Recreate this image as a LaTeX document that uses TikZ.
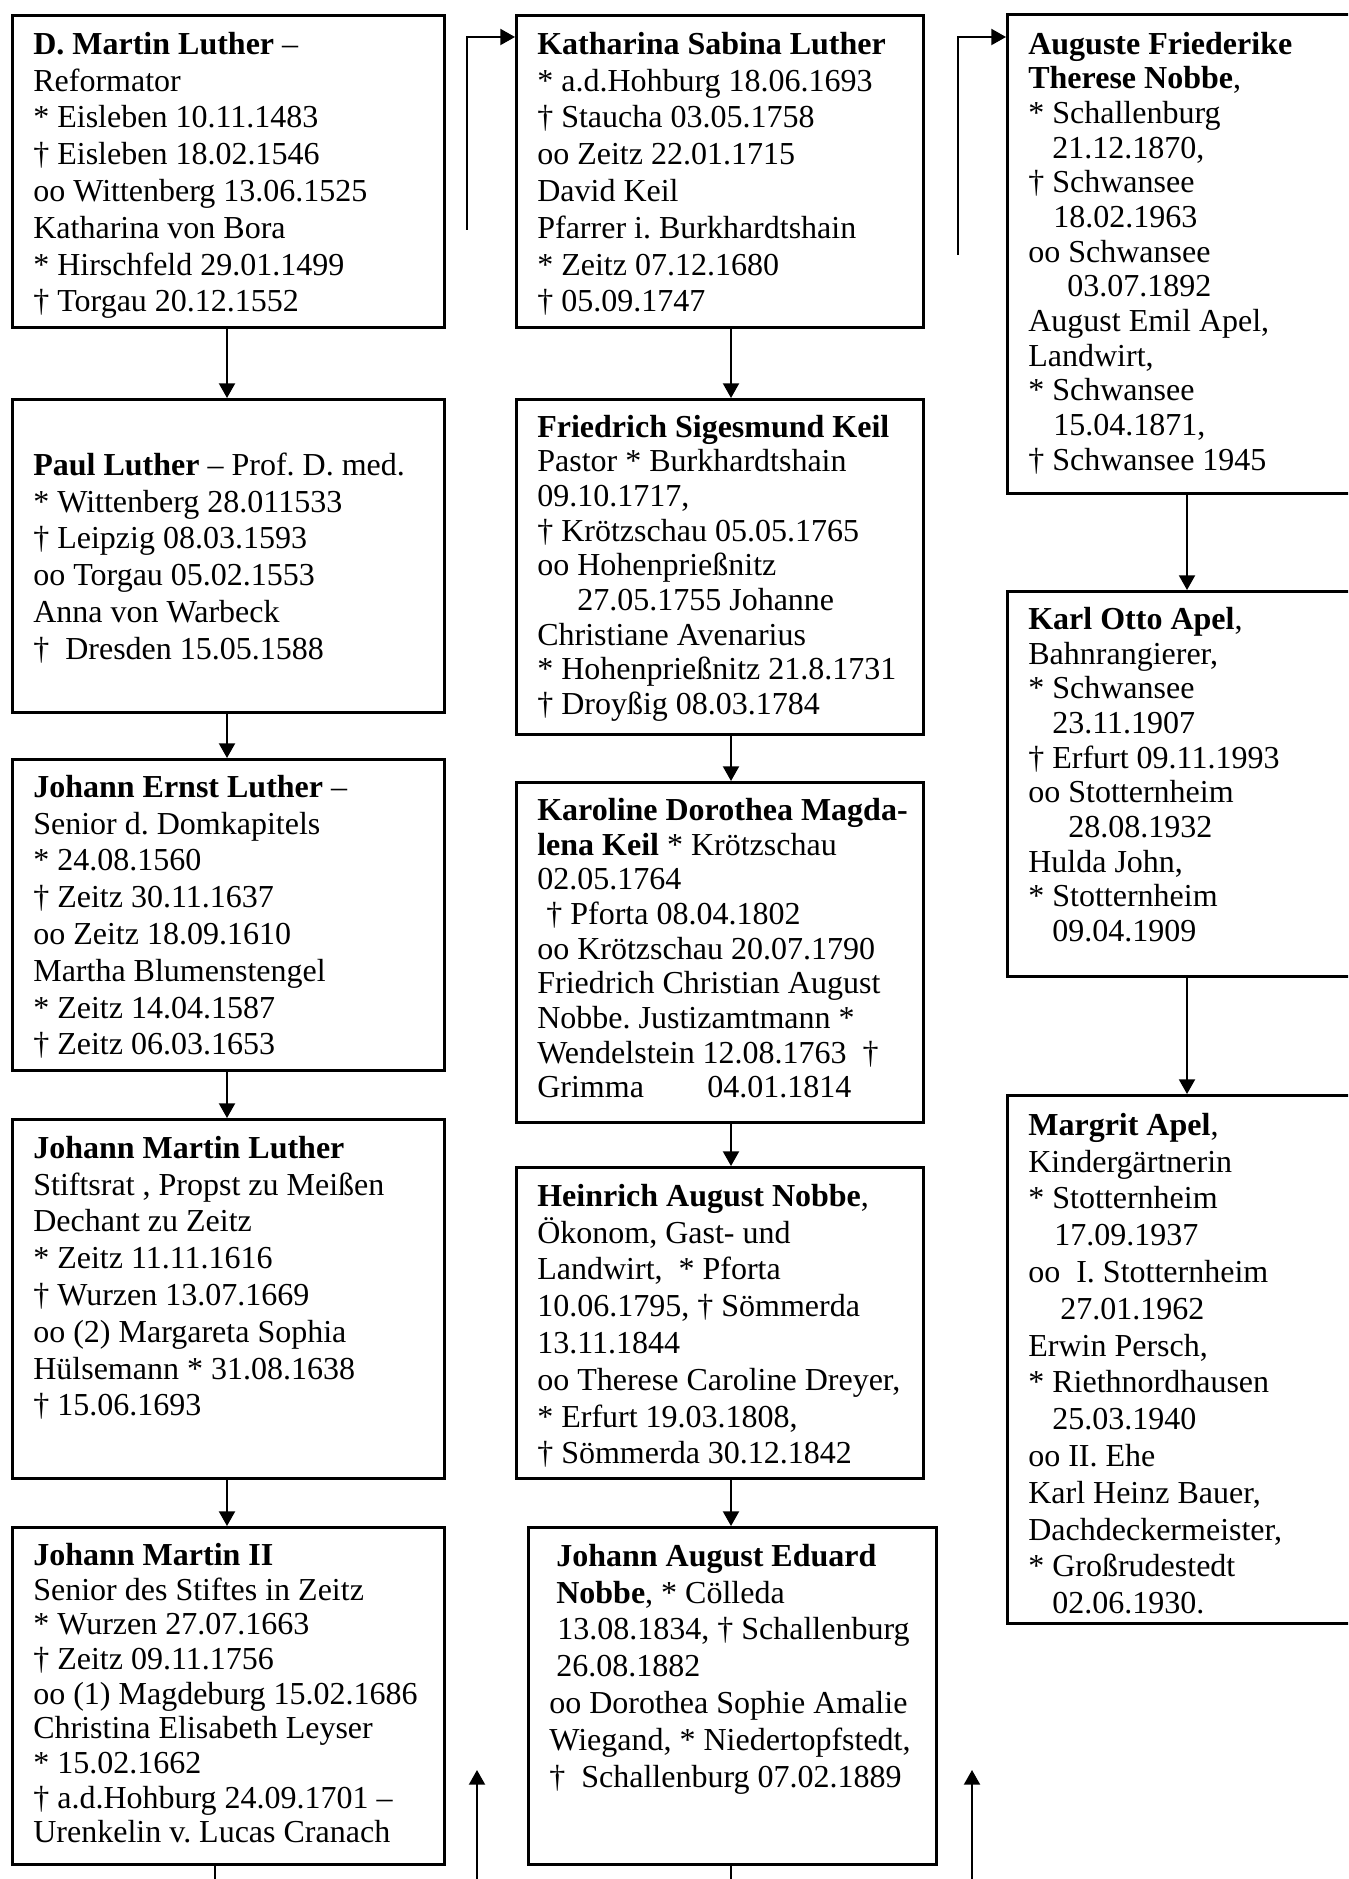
\documentclass[tikz,border=0pt]{standalone}
\usepackage{fontspec}
\setmainfont{Liberation Serif}
\usetikzlibrary{arrows.meta}
\newdimen\pxu \pxu=0.375pt
% #1 width, #2 height, #3 first baseline offset, #4 baselineskip, #5 text (all in px except #4)
\newcommand\famtext[5]{%
\begin{minipage}[t][#2\pxu][t]{#1\pxu}\fontsize{12pt}{#4}\selectfont\frenchspacing\raggedright\leftskip=21\pxu\relax
\rule{0pt}{#3\pxu}#5\par\end{minipage}}
\newcommand\ind[1]{\hspace*{#1\pxu}}
\tikzset{
  famb/.style={draw, line width=1pt, inner sep=0pt, anchor=north west},
  conn/.style={line width=0.75pt, -{Triangle[length=5.5pt,width=6pt]}},
  plain/.style={line width=0.75pt}
}
\begin{document}
\begin{tikzpicture}[x=0.375pt,y=-0.375pt]
\useasboundingbox (0,0) rectangle (1348,1879);
\fill[white] (0,0) rectangle (1348,1879);
\clip (0,0) rectangle (1348,1879);
% column 1
\node[famb] (b1) at (11,14) {\famtext{432}{312}{39}{13.8pt}{%
\textbf{D. Martin Luther} –\par
Reformator\par
* Eisleben 10.11.1483\par
† Eisleben 18.02.1546\par
oo Wittenberg 13.06.1525\par
Katharina von Bora\par
* Hirschfeld 29.01.1499\par
† Torgau 20.12.1552}};
\node[famb] (b2) at (11,398) {\famtext{432}{313}{76}{13.8pt}{%
\textbf{Paul Luther} – Prof. D. med.\par
* Wittenberg 28.011533\par
† Leipzig 08.03.1593\par
oo Torgau 05.02.1553\par
Anna von Warbeck\par
†\ \ Dresden 15.05.1588}};
\node[famb] (b3) at (11,758) {\famtext{432}{311}{38}{13.8pt}{%
\textbf{Johann Ernst Luther} –\par
Senior d. Domkapitels\par
* 24.08.1560\par
† Zeitz 30.11.1637\par
oo Zeitz 18.09.1610\par
Martha Blumenstengel\par
* Zeitz 14.04.1587\par
† Zeitz 06.03.1653}};
\node[famb] (b4) at (11,1118) {\famtext{432}{359}{39}{13.8pt}{%
\textbf{Johann Martin Luther}\par
Stiftsrat , Propst zu Meißen\par
Dechant zu Zeitz\par
* Zeitz 11.11.1616\par
† Wurzen 13.07.1669\par
oo (2) Margareta Sophia\par
Hülsemann * 31.08.1638\par
† 15.06.1693}};
\node[famb] (b5) at (11,1526) {\famtext{432}{337}{38}{13pt}{%
\textbf{Johann Martin II}\par
Senior des Stiftes in Zeitz\par
* Wurzen 27.07.1663\par
† Zeitz 09.11.1756\par
oo (1) Magdeburg 15.02.1686\par
Christina Elisabeth Leyser\par
* 15.02.1662\par
† a.d.Hohburg 24.09.1701 –\par
Urenkelin v. Lucas Cranach}};
% column 2
\node[famb] (b6) at (515,14) {\famtext{407}{312}{39}{13.8pt}{%
\textbf{Katharina Sabina Luther}\par
* a.d.Hohburg 18.06.1693\par
† Staucha 03.05.1758\par
oo Zeitz 22.01.1715\par
David Keil\par
Pfarrer i. Burkhardtshain\par
* Zeitz 07.12.1680\par
† 05.09.1747}};
\node[famb] (b7) at (515,398) {\famtext{407}{335}{38}{13pt}{%
\textbf{Friedrich Sigesmund Keil}\par
Pastor * Burkhardtshain\par
09.10.1717,\par
† Krötzschau 05.05.1765\par
oo Hohenprießnitz\par
\ind{40}27.05.1755 Johanne\par
Christiane Avenarius\par
* Hohenprießnitz 21.8.1731\par
† Droyßig 08.03.1784}};
\node[famb] (b8) at (515,781) {\famtext{407}{340}{38}{13pt}{%
\textbf{Karoline Dorothea Magda-}\par
\textbf{lena Keil} * Krötzschau\par
02.05.1764\par
\ind{9}† Pforta 08.04.1802\par
oo Krötzschau 20.07.1790\par
Friedrich Christian August\par
Nobbe. Justizamtmann *\par
Wendelstein 12.08.1763\ \ †\par
\makebox[170\pxu][l]{Grimma}04.01.1814}};
\node[famb] (b9) at (515,1166) {\famtext{407}{311}{39}{13.8pt}{%
\textbf{Heinrich August Nobbe},\par
Ökonom, Gast- und\par
Landwirt,\ \ * Pforta\par
10.06.1795, † Sömmerda\par
13.11.1844\par
oo Therese Caroline Dreyer,\par
* Erfurt 19.03.1808,\par
† Sömmerda 30.12.1842}};
\node[famb] (b10) at (527,1526) {\famtext{408}{337}{39}{13.8pt}{%
\ind{7}\textbf{Johann August Eduard}\par
\ind{7}\textbf{Nobbe}, * Cölleda\par
\ind{8}13.08.1834, † Schallenburg\par
\ind{7}26.08.1882\par
oo Dorothea Sophie Amalie\par
Wiegand, * Niedertopfstedt,\par
†\ \ Schallenburg 07.02.1889}};
% column 3
\node[famb] (b11) at (1006,13) {\famtext{362}{479}{40}{13pt}{%
\textbf{Auguste Friederike}\par
\textbf{Therese Nobbe},\par
* Schallenburg\par
\ind{24}21.12.1870,\par
† Schwansee\par
\ind{25}18.02.1963\par
oo Schwansee\par
\ind{39}03.07.1892\par
August Emil Apel,\par
Landwirt,\par
* Schwansee\par
\ind{25}15.04.1871,\par
† Schwansee 1945}};
\node[famb] (b12) at (1006,590) {\famtext{362}{385}{38}{13pt}{%
\textbf{Karl Otto Apel},\par
Bahnrangierer,\par
* Schwansee\par
\ind{24}23.11.1907\par
† Erfurt 09.11.1993\par
oo Stotternheim\par
\ind{40}28.08.1932\par
Hulda John,\par
* Stotternheim\par
\ind{24}09.04.1909}};
\node[famb] (b13) at (1006,1094) {\famtext{362}{528}{40}{13.8pt}{%
\textbf{Margrit Apel},\par
Kindergärtnerin\par
* Stotternheim\par
\ind{26}17.09.1937\par
oo\ \ I. Stotternheim\par
\ind{32}27.01.1962\par
Erwin Persch,\par
* Riethnordhausen\par
\ind{24}25.03.1940\par
oo II. Ehe\par
Karl Heinz Bauer,\par
Dachdeckermeister,\par
* Großrudestedt\par
\ind{24}02.06.1930.}};
% connector columns
\coordinate (x1) at (227,0);
\coordinate (x2) at (731,0);
\coordinate (x3) at (1187,0);
\draw[conn] (b1.south -| x1) -- (b2.north -| x1);
\draw[conn] (b2.south -| x1) -- (b3.north -| x1);
\draw[conn] (b3.south -| x1) -- (b4.north -| x1);
\draw[conn] (b4.south -| x1) -- (b5.north -| x1);
\draw[conn] (b6.south -| x2) -- (b7.north -| x2);
\draw[conn] (b7.south -| x2) -- (b8.north -| x2);
\draw[conn] (b8.south -| x2) -- (b9.north -| x2);
\draw[conn] (b9.south -| x2) -- (b10.north -| x2);
\draw[conn] (b11.south -| x3) -- (b12.north -| x3);
\draw[conn] (b12.south -| x3) -- (b13.north -| x3);
% continuation lines at the bottom
\coordinate (e1) at (215,1879);
\coordinate (e2) at (731,1879);
\draw[plain] (b5.south -| e1) -- (e1);
\draw[plain] (b10.south -| e2) -- (e2);
\coordinate (u1a) at (477,1879);
\coordinate (u1b) at (477,1770);
\coordinate (u2a) at (972,1879);
\coordinate (u2b) at (972,1770);
\draw[conn] (u1a) -- (u1b);
\draw[conn] (u2a) -- (u2b);
% elbow arrows at the top
\coordinate (ky) at (0,37);
\coordinate (k1) at (467,230);
\coordinate (k2) at (958,255);
\draw[conn] (k1) |- (b6.west |- ky);
\draw[conn] (k2) |- (b11.west |- ky);
\end{tikzpicture}
\end{document}
